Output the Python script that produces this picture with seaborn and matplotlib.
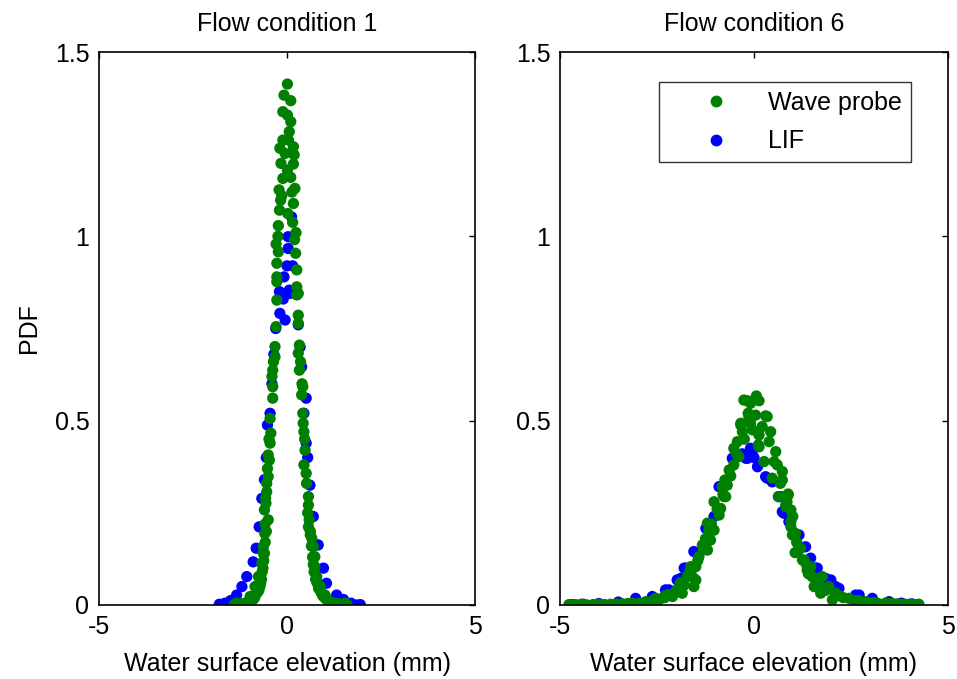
import matplotlib
matplotlib.use("Agg")
import matplotlib.pyplot as plt
from matplotlib.lines import Line2D
import numpy as np
import pandas as pd
import seaborn as sns

# ---- Flow condition 1 : wave probe ----
c1_probe_x = [0.01, -0.08, 0.10, -0.11, 0.01, 0.10, 0.06, -0.11, 0.04, -0.19,
              0.17, -0.05, 0.19, -0.16, 0.17, 0.01, -0.11, 0.10, -0.21, 0.21,
              -0.17, 0.17, -0.20, 0.02, 0.15, -0.23, 0.20, -0.29, -0.23, 0.23,
              -0.27, 0.26, -0.27, -0.27, 0.26, 0.30, -0.27, 0.26, 0.30, 0.30,
              -0.29, -0.32, -0.32, -0.38, 0.33, 0.30, 0.33, -0.38, -0.38, 0.42,
              0.39, -0.45, -0.43, -0.45, 0.42, 0.43, 0.45, 0.48, -0.50, -0.47,
              0.45, 0.51, -0.50, -0.54, -0.54, -0.56, 0.57, 0.57, -0.60, -0.50,
              -0.59, 0.59, 0.57, 0.66, 0.70, -0.63, -0.63, -0.67, 0.74, 0.74,
              0.79, 0.88, 1.01, 1.23, 1.54, -0.76, -0.85, -0.98, -1.34, -1.03,
              -0.55, -0.58, -0.60, -0.62, -0.64, -0.66, -0.68, -0.70, -0.72, -0.75,
              -0.78, -0.82, -0.86, -0.90, -0.95, -1.05, -1.10, -1.15, -1.20, -1.25,
              -1.30, -1.40, 0.62, 0.65, 0.68, 0.70, 0.72, 0.76, 0.80, 0.84,
              0.90, 0.95, 1.00, 1.05, 1.10, 1.15, 1.20, 1.30, 1.40, 1.50, 1.60,
              -0.40, -0.36, 0.36, 0.40, -0.48, 0.47, -0.52, 0.52, -0.57, 0.55,
              -0.58, 0.62, -0.24, 0.24, -0.14, 0.13]
c1_probe_y = [1.413, 1.383, 1.368, 1.338, 1.329, 1.311, 1.284, 1.261, 1.261, 1.239,
              1.243, 1.225, 1.221, 1.198, 1.196, 1.180, 1.157, 1.160, 1.126, 1.130,
              1.098, 1.089, 1.071, 1.062, 1.038, 1.029, 0.991, 0.979, 0.958, 0.954,
              0.927, 0.909, 0.890, 0.877, 0.863, 0.845, 0.827, 0.841, 0.786, 0.764,
              0.755, 0.701, 0.673, 0.637, 0.705, 0.683, 0.637, 0.592, 0.561, 0.592,
              0.570, 0.506, 0.466, 0.439, 0.520, 0.493, 0.470, 0.420, 0.407, 0.393,
              0.380, 0.357, 0.348, 0.330, 0.307, 0.276, 0.294, 0.271, 0.258, 0.231,
              0.194, 0.231, 0.212, 0.181, 0.158, 0.158, 0.140, 0.113, 0.131, 0.104,
              0.077, 0.050, 0.027, 0.005, 0.005, 0.077, 0.050, 0.023, 0.005, 0.000,
              0.200, 0.170, 0.140, 0.120, 0.100, 0.090, 0.070, 0.060, 0.050, 0.040,
              0.035, 0.030, 0.020, 0.015, 0.010, 0.008, 0.005, 0.004, 0.003, 0.002,
              0.001, 0.001, 0.190, 0.160, 0.130, 0.110, 0.090, 0.070, 0.060, 0.045,
              0.035, 0.025, 0.020, 0.015, 0.010, 0.008, 0.006, 0.004, 0.003, 0.002, 0.001,
              0.620, 0.660, 0.660, 0.600, 0.450, 0.450, 0.370, 0.330, 0.290, 0.250,
              0.220, 0.200, 1.000, 1.010, 1.110, 1.120]

# ---- Flow condition 1 : LIF ----
c1_lif_x = [0.12, 0.03, 0.03, -0.08, 0.06, 0.08, -0.19, -0.05, 0.00, -0.10,
            0.15, -0.20, -0.30, -0.35, -0.40, -0.45, 0.30, 0.35, 0.39, 0.45,
            0.51, -0.52, 0.51, -0.55, 0.55, -0.60, 0.61, -0.67, 0.70, -0.74,
            0.83, -0.82, -0.90, 0.97, -1.07, 1.05, -1.20, -1.34, 1.32, -1.50,
            1.50, -1.65, 1.70, -1.80, 1.85, 1.95]
c1_lif_y = [1.053, 0.999, 0.967, 0.890, 0.854, 0.845, 0.791, 0.773, 0.920, 0.830,
            0.920, 0.850, 0.750, 0.680, 0.600, 0.520, 0.760, 0.700, 0.646, 0.520,
            0.561, 0.488, 0.439, 0.400, 0.400, 0.340, 0.325, 0.289, 0.240, 0.212,
            0.163, 0.154, 0.117, 0.100, 0.077, 0.059, 0.050, 0.027, 0.027, 0.012,
            0.015, 0.005, 0.005, 0.002, 0.000, 0.001]

# ---- Flow condition 6 : wave probe ----
c6_probe_x = [-0.17, 0.06, 0.13, -0.09, -0.15, 0.04, 0.30, -0.34, -0.09, 0.21,
              -0.30, 0.43, -0.04, 0.13, -0.43, 0.39, 0.13, -0.52, 0.56, 0.52,
              -0.39, -0.52, -0.64, 0.26, 0.73, 0.47, 0.73, -0.75, -0.69, -0.73,
              -1.03, -0.86, 0.88, 0.82, -0.90, -1.20, -1.03, 0.95, 0.99, -1.12,
              -1.33, -1.20, -1.42, 1.06, -1.63, -1.50, -1.72, -1.50, -1.80, -1.55,
              -1.98, -2.10, -2.45, -2.79, -3.14, -3.39, 0.88, 0.82, 0.95, 0.95,
              1.03, 1.20, 1.29, 1.37, 1.50, 1.76, 1.55, 1.93, 1.72, 2.10,
              2.02, 2.45, 2.88, 3.39, 4.25, -4.77, -4.60, -4.45, -4.30, -4.15,
              -4.00, -3.85, -3.70, -3.55, -3.25, -2.96, -2.60, -2.30, -2.53, 3.00,
              3.20, 3.60, 3.80, 4.00, 4.10, 2.30, 2.60, 1.85, 1.65, 1.40,
              -0.26, -0.13, 0.34, -0.34, 0.11, 0.64, 1.12, 1.46, 1.59, -1.85,
              -1.59, -1.16, -0.77, -0.82, -2.20, -1.90, 1.25, 1.07,
              -2.30, -2.00, -1.90, -1.65, -1.45, -1.30, -1.25, -1.10, -0.95, -0.80,
              -0.60, -0.45, -0.25, 0.60, 0.68, 0.85, 1.00, 1.10, 1.15, 1.35,
              1.60, 1.80, 2.20, 2.70, 3.10, 3.50, 3.70, 3.90, 4.20]
c6_probe_y = [0.554, 0.567, 0.554, 0.547, 0.520, 0.515, 0.513, 0.493, 0.493, 0.484,
              0.470, 0.470, 0.475, 0.461, 0.443, 0.443, 0.429, 0.425, 0.416, 0.389,
              0.402, 0.380, 0.366, 0.389, 0.362, 0.344, 0.339, 0.339, 0.325, 0.294,
              0.280, 0.262, 0.298, 0.267, 0.244, 0.222, 0.203, 0.212, 0.190, 0.176,
              0.163, 0.149, 0.131, 0.142, 0.104, 0.104, 0.077, 0.068, 0.054, 0.050,
              0.036, 0.023, 0.014, 0.009, 0.005, 0.003, 0.301, 0.271, 0.258, 0.226,
              0.194, 0.154, 0.122, 0.095, 0.077, 0.077, 0.050, 0.050, 0.032, 0.032,
              0.014, 0.018, 0.009, 0.005, 0.002, 0.001, 0.001, 0.002, 0.000, 0.001,
              0.002, 0.001, 0.002, 0.003, 0.004, 0.005, 0.012, 0.020, 0.018, 0.006,
              0.004, 0.003, 0.002, 0.002, 0.001, 0.020, 0.012, 0.040, 0.060, 0.085,
              0.556, 0.511, 0.511, 0.488, 0.434, 0.294, 0.145, 0.104, 0.050, 0.032,
              0.077, 0.203, 0.294, 0.321, 0.028, 0.045, 0.122, 0.194,
              0.025, 0.040, 0.060, 0.090, 0.120, 0.150, 0.180, 0.220, 0.260, 0.300,
              0.350, 0.410, 0.450, 0.380, 0.330, 0.280, 0.240, 0.170, 0.150, 0.110,
              0.065, 0.045, 0.025, 0.012, 0.007, 0.004, 0.003, 0.002, 0.001]

# ---- Flow condition 6 : LIF ----
c6_lif_x = [-0.56, -0.17, -0.04, 0.09, 0.30, 0.47, -0.90, 0.63, 0.73, -1.03,
            -1.24, 0.90, -1.55, -1.86, -2.19, -2.62, 0.69, 0.77, 1.12, 1.33,
            1.46, 1.63, 1.98, 2.19, 2.62, 3.05, 3.48, 4.07, -3.05, -2.28,
            -1.98, -1.80, -1.89, -0.09, -0.21, 0.34, 1.16, 1.59, 1.85, 2.10,
            2.71, -1.76, -3.50, -4.00, -4.40, -4.70, -0.30, 0.00, 3.80]
c6_lif_y = [0.398, 0.398, 0.420, 0.375, 0.348, 0.334, 0.321, 0.294, 0.253, 0.240,
            0.208, 0.226, 0.145, 0.072, 0.041, 0.023, 0.294, 0.249, 0.190, 0.158,
            0.127, 0.100, 0.068, 0.045, 0.027, 0.018, 0.009, 0.003, 0.018, 0.041,
            0.068, 0.100, 0.072, 0.425, 0.398, 0.344, 0.190, 0.100, 0.072, 0.050,
            0.027, 0.100, 0.008, 0.004, 0.002, 0.001, 0.410, 0.400, 0.005]

panel_titles = ["Flow condition 1", "Flow condition 6"]
series_names = ["Wave probe", "LIF"]
series_colors = {"Wave probe": "#008000", "LIF": "#0000ff"}
x_ticks = [-5, 0, 5]
x_tick_labels = ["-5", "0", "5"]
y_ticks = [0, 0.5, 1, 1.5]
y_tick_labels = ["0", "0.5", "1", "1.5"]


def frame(xs, ys, name, panel):
    return pd.DataFrame({"x": xs, "y": ys, "series": name, "panel": panel})


# LIF rows come first so the wave-probe dots are painted over them
df = pd.concat([
    frame(c1_lif_x, c1_lif_y, "LIF", panel_titles[0]),
    frame(c1_probe_x, c1_probe_y, "Wave probe", panel_titles[0]),
    frame(c6_lif_x, c6_lif_y, "LIF", panel_titles[1]),
    frame(c6_probe_x, c6_probe_y, "Wave probe", panel_titles[1]),
], ignore_index=True)

sns.set_style("white")
plt.rcParams["font.family"] = ["Liberation Sans", "DejaVu Sans"]
plt.rcParams["axes.unicode_minus"] = False
plt.rcParams["text.color"] = "black"
plt.rcParams["axes.labelcolor"] = "black"

W, H = 957, 679
fig = plt.figure(figsize=(W / 100, H / 100), dpi=100)
boxes = [(99, 52, 475, 605), (560, 52, 948, 605)]
axes = []
for (x0, y0, x1, y1) in boxes:
    axes.append(fig.add_axes([x0 / W, 1 - y1 / H, (x1 - x0) / W, (y1 - y0) / H]))

FS = 18
for ax, title in zip(axes, panel_titles):
    sub = df[df["panel"] == title]
    sns.scatterplot(data=sub, x="x", y="y", hue="series", palette=series_colors,
                    s=66, linewidth=0, alpha=1, legend=False, ax=ax)
    ax.set_xlim(-5, 5)
    ax.set_ylim(0, 1.5)
    ax.set_xticks(x_ticks)
    ax.set_xticklabels(x_tick_labels)
    ax.set_yticks(y_ticks)
    ax.set_yticklabels(y_tick_labels)
    ax.tick_params(direction="in", length=4, width=1, top=True, right=True,
                   labelsize=FS, colors="black", labelcolor="black", pad=7)
    for sp in ax.spines.values():
        sp.set_visible(True)
        sp.set_color("black")
        sp.set_linewidth(1.2)
    ax.set_title(title, fontsize=FS, pad=15, color="black")
    ax.set_xlabel("Water surface elevation (mm)", fontsize=FS, labelpad=9.5,
                  color="black")
    ax.set_ylabel("")

axes[0].set_ylabel("PDF", fontsize=FS, labelpad=10, color="black")

handles = [Line2D([], [], linestyle="none", marker="o", markersize=8.5,
                  markerfacecolor=series_colors[n], markeredgewidth=0)
           for n in series_names]
leg = axes[1].legend(handles, series_names, loc="upper right",
                     bbox_to_anchor=(0.9045, 0.946), fontsize=FS,
                     frameon=True, fancybox=False, edgecolor="black",
                     handlelength=3.84, handletextpad=0.16, borderpad=0.36,
                     labelspacing=0.58, borderaxespad=0)
leg.get_frame().set_linewidth(1.0)
for t in leg.get_texts():
    t.set_color("black")

fig.savefig("out.png", dpi=100, facecolor="white")
